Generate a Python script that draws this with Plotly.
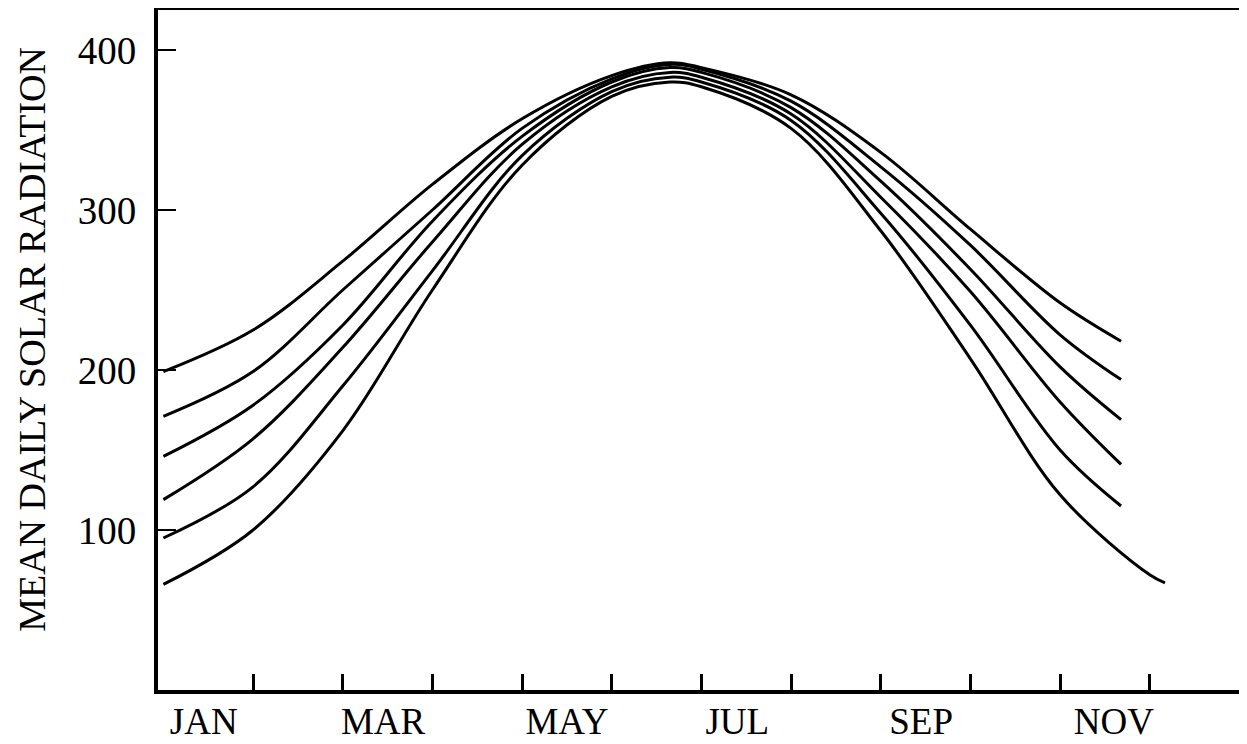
import plotly.graph_objects as go

# Month position (0 = 1 Jan, 1 = 1 Feb, ...)
months_a = [0, 1, 2, 3, 4, 5, 5.65, 6, 7, 8, 9, 10, 10.68]
months_b = [0, 1, 2, 3, 4, 5, 5.65, 6, 7, 8, 9, 10, 11, 11.17]

curve1 = [199, 225, 268, 316, 357, 384, 392, 389, 372, 336, 288, 242, 218]
curve2 = [171, 199, 250, 300, 351, 382, 391, 388, 368, 327, 278, 222, 194]
curve3 = [146, 178, 228, 293, 346, 380, 389, 386, 364, 318, 263, 202, 169]
curve4 = [119, 157, 214, 280, 341, 377, 386, 383, 360, 308, 249, 180, 141]
curve5 = [95, 127, 190, 262, 334, 374, 383, 380, 356, 298, 228, 150, 115]
curve6 = [66, 100, 162, 250, 328, 371, 380, 377, 351, 287, 207, 122, 72, 67]

month_label_pos = [0.45, 2.45, 4.5, 6.4, 8.45, 10.6]
month_labels = ["JAN", "MAR", "MAY", "JUL", "SEP", "NOV"]
month_boundaries = [1, 2, 3, 4, 5, 6, 7, 8, 9, 10, 11]
y_ticks = [100, 200, 300, 400]

FONT = "Liberation Serif, Times New Roman, serif"

fig = go.Figure()
for ys, xs in [(curve1, months_a), (curve2, months_a), (curve3, months_a),
               (curve4, months_a), (curve5, months_a), (curve6, months_b)]:
    fig.add_trace(go.Scatter(x=xs, y=ys, mode="lines",
                             line=dict(color="black", width=3, shape="spline", smoothing=1.0),
                             showlegend=False, hoverinfo="skip"))

# page body has an 8px margin; size the figure so it fits the window
fig.update_layout(
    width=1239, height=736,
    margin=dict(l=150, r=4, t=2, b=54),
    paper_bgcolor="white", plot_bgcolor="white",
    font=dict(family=FONT, size=37, color="black"),
    showlegend=False,
)

fig.update_xaxes(
    range=[-0.06, 12.04],
    showgrid=False, zeroline=False,
    showline=True, linecolor="black", linewidth=4, mirror=True,
    tickmode="array", tickvals=month_label_pos, ticktext=month_labels,
    ticks="", ticklabelstandoff=-4,
    tickfont=dict(family=FONT, size=37, color="black"),
    minor=dict(tickmode="array", tickvals=month_boundaries, ticks="inside",
               ticklen=16, tickwidth=3, tickcolor="black", showgrid=False),
    automargin=False,
)

fig.update_yaxes(
    range=[0, 425],
    showgrid=False, zeroline=False,
    showline=True, linecolor="black", linewidth=4, mirror=True,
    tickmode="array", tickvals=y_ticks,
    ticks="inside", ticklen=18, tickwidth=2, tickcolor="black",
    ticklabelstandoff=10,
    tickfont=dict(family=FONT, size=39, color="black"),
    automargin=False,
)

fig.add_annotation(
    text="MEAN DAILY SOLAR RADIATION",
    xref="paper", yref="paper", x=0, y=0.515,
    xanchor="center", yanchor="middle", xshift=-126,
    textangle=-90, showarrow=False,
    font=dict(family=FONT, size=38, color="black"),
)

fig.write_html("out.html")
